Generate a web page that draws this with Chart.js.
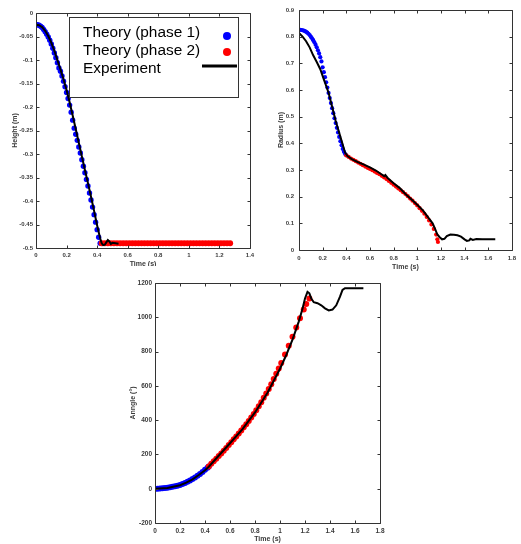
<!DOCTYPE html>
<html><head><meta charset="utf-8">
<script src="https://cdn.jsdelivr.net/npm/chart.js@4"></script>
<style>
html,body{margin:0;padding:0;background:#fff;width:521px;height:544px;overflow:hidden;position:relative}
canvas{position:absolute}
</style></head><body>
<canvas id="c1" width="260" height="266" style="left:0;top:0"></canvas>
<canvas id="c2" width="261" height="272" style="left:260px;top:0"></canvas>
<canvas id="c3" width="280" height="270" style="left:110px;top:274px"></canvas>
<script>
// ---------- Height chart data ----------
const heightT1 = [0,0.01,0.02,0.03,0.04,0.05,0.06,0.07,0.08,0.09,0.10,0.11,0.12,0.13,0.14,0.15,0.16,0.17,0.18,0.19,0.20,0.21,0.22,0.23,0.24,0.25,0.26,0.27,0.28,0.29,0.30,0.31,0.32,0.33,0.34,0.35,0.36,0.37,0.38,0.39,0.40,0.41,0.42];
const heightP1 = [-0.025,-0.025,-0.026,-0.028,-0.031,-0.035,-0.040,-0.045,-0.051,-0.058,-0.066,-0.075,-0.085,-0.095,-0.106,-0.117,-0.124,-0.134,-0.145,-0.157,-0.169,-0.182,-0.196,-0.211,-0.228,-0.245,-0.258,-0.271,-0.285,-0.298,-0.312,-0.326,-0.340,-0.354,-0.368,-0.383,-0.398,-0.413,-0.429,-0.445,-0.461,-0.477,-0.490];
const heightT2 = [0.43,0.45,0.47,0.49,0.51,0.53,0.55,0.57,0.59,0.61,0.63,0.65,0.67,0.69,0.71,0.73,0.75,0.77,0.79,0.81,0.83,0.85,0.87,0.89,0.91,0.93,0.95,0.97,0.99,1.01,1.03,1.05,1.07,1.09,1.11,1.13,1.15,1.17,1.19,1.21,1.23,1.25,1.27];
const heightP2 = [-0.49,-0.49,-0.49,-0.49,-0.49,-0.49,-0.49,-0.49,-0.49,-0.49,-0.49,-0.49,-0.49,-0.49,-0.49,-0.49,-0.49,-0.49,-0.49,-0.49,-0.49,-0.49,-0.49,-0.49,-0.49,-0.49,-0.49,-0.49,-0.49,-0.49,-0.49,-0.49,-0.49,-0.49,-0.49,-0.49,-0.49,-0.49,-0.49,-0.49,-0.49,-0.49,-0.49];
const heightExpT = [0,0.02,0.04,0.06,0.08,0.10,0.12,0.14,0.16,0.18,0.20,0.22,0.24,0.26,0.28,0.30,0.32,0.34,0.36,0.38,0.40,0.42,0.43,0.44,0.45,0.46,0.47,0.48,0.49,0.50,0.52,0.54];
const heightExp = [-0.025,-0.026,-0.030,-0.038,-0.049,-0.063,-0.080,-0.100,-0.120,-0.141,-0.164,-0.190,-0.218,-0.247,-0.276,-0.305,-0.334,-0.362,-0.391,-0.421,-0.452,-0.480,-0.490,-0.494,-0.493,-0.488,-0.483,-0.486,-0.491,-0.489,-0.490,-0.491];
const heightXTicks = [0,0.2,0.4,0.6,0.8,1,1.2,1.4];
const heightXLabels = ['0','0.2','0.4','0.6','0.8','1','1.2','1.4'];
const heightYTicks = [-0.5,-0.45,-0.4,-0.35,-0.3,-0.25,-0.2,-0.15,-0.1,-0.05,0];
const heightYLabels = ['-0.5','-0.45','-0.4','-0.35','-0.3','-0.25','-0.2','-0.15','-0.1','-0.05','0'];

// ---------- Radius chart data ----------
const radiusT1 = [0,0.01,0.02,0.03,0.04,0.05,0.06,0.07,0.08,0.09,0.10,0.11,0.12,0.13,0.14,0.15,0.16,0.17,0.18,0.19,0.20,0.21,0.22,0.23,0.24,0.25,0.26,0.27,0.28,0.29,0.30,0.31,0.32,0.33,0.34,0.35,0.36,0.37,0.38,0.39,0.40];
const radiusP1 = [0.826,0.826,0.825,0.824,0.823,0.821,0.818,0.815,0.811,0.806,0.800,0.794,0.787,0.779,0.770,0.760,0.749,0.737,0.723,0.707,0.685,0.667,0.648,0.629,0.609,0.589,0.570,0.551,0.532,0.513,0.494,0.476,0.458,0.441,0.424,0.408,0.393,0.379,0.368,0.360,0.355];
const radiusT2 = [0.40,0.42,0.44,0.46,0.48,0.50,0.52,0.54,0.56,0.58,0.60,0.62,0.64,0.66,0.68,0.70,0.72,0.74,0.76,0.78,0.80,0.82,0.84,0.86,0.88,0.90,0.92,0.94,0.96,0.98,1.00,1.02,1.04,1.06,1.08,1.10,1.12,1.14,1.16,1.17,1.175];
const radiusP2 = [0.355,0.349,0.343,0.338,0.333,0.328,0.323,0.318,0.313,0.308,0.304,0.299,0.294,0.289,0.284,0.278,0.272,0.266,0.259,0.252,0.245,0.238,0.231,0.224,0.217,0.210,0.202,0.193,0.185,0.176,0.167,0.157,0.147,0.136,0.124,0.111,0.096,0.079,0.058,0.040,0.030];
const radiusExpT = [0,0.03,0.06,0.09,0.12,0.15,0.18,0.21,0.23,0.25,0.27,0.29,0.31,0.33,0.35,0.37,0.39,0.41,0.45,0.50,0.55,0.60,0.65,0.70,0.72,0.73,0.75,0.80,0.85,0.90,0.95,1.00,1.05,1.10,1.13,1.15,1.17,1.19,1.21,1.23,1.25,1.28,1.31,1.34,1.37,1.40,1.42,1.44,1.45,1.47,1.50,1.55,1.60,1.66];
const radiusExp = [0.814,0.800,0.783,0.760,0.730,0.705,0.678,0.640,0.615,0.590,0.555,0.520,0.485,0.455,0.425,0.395,0.365,0.352,0.340,0.329,0.320,0.310,0.298,0.283,0.277,0.281,0.270,0.250,0.233,0.210,0.190,0.170,0.148,0.118,0.100,0.080,0.058,0.048,0.040,0.042,0.052,0.058,0.057,0.055,0.050,0.040,0.034,0.036,0.042,0.038,0.041,0.040,0.040,0.040];
const radiusXTicks = [0,0.2,0.4,0.6,0.8,1,1.2,1.4,1.6,1.8];
const radiusXLabels = ['0','0.2','0.4','0.6','0.8','1','1.2','1.4','1.6','1.8'];
const radiusYTicks = [0,0.1,0.2,0.3,0.4,0.5,0.6,0.7,0.8,0.9];
const radiusYLabels = ['0','0.1','0.2','0.3','0.4','0.5','0.6','0.7','0.8','0.9'];

// ---------- Angle chart data ----------
const angleT1 = [0,0.02,0.04,0.06,0.08,0.10,0.12,0.14,0.16,0.18,0.20,0.22,0.24,0.26,0.28,0.30,0.32,0.34,0.36,0.38,0.40,0.42,0.43];
const angleP1 = [0,0,1,2,4,6,8,11,14,18,22,27,33,40,48,56,65,75,86,98,110,123,130];
const angleT2 = [0.43,0.45,0.47,0.49,0.51,0.53,0.55,0.57,0.59,0.61,0.63,0.65,0.67,0.69,0.71,0.73,0.75,0.77,0.79,0.81,0.83,0.85,0.87,0.89,0.91,0.93,0.95,0.97,0.99,1.01,1.04,1.07,1.10,1.13,1.16,1.19,1.21,1.235];
const angleP2 = [130,145,160,175,191,206,222,238,255,271,288,305,322,340,358,376,395,415,436,458,481,505,530,555,582,610,640,670,701,733,783,834,886,940,994,1045,1078,1110];
const angleExpT = [0,0.1,0.2,0.25,0.3,0.35,0.4,0.43,0.5,0.6,0.7,0.8,0.9,1.0,1.05,1.1,1.15,1.18,1.2,1.22,1.235,1.25,1.27,1.3,1.33,1.36,1.39,1.42,1.45,1.48,1.5,1.52,1.55,1.6,1.667];
const angleExp = [0,4,20,35,55,80,108,128,185,265,348,445,560,700,780,870,975,1050,1110,1148,1140,1110,1088,1082,1070,1052,1040,1045,1070,1120,1160,1170,1170,1170,1170];
const angleXTicks = [0,0.2,0.4,0.6,0.8,1,1.2,1.4,1.6,1.8];
const angleXLabels = ['0','0.2','0.4','0.6','0.8','1','1.2','1.4','1.6','1.8'];
const angleYTicks = [-200,0,200,400,600,800,1000,1200];
const angleYLabels = ['-200','0','200','400','600','800','1000','1200'];

const FONT = 'Liberation Sans, Arial, sans-serif';
const TXT = '#3a3a3a';
const pts = (xs, ys) => xs.map((x, i) => ({x, y: ys[i]}));

const framePlugin = {
  id: 'frame',
  afterDraw(chart) {
    const {ctx, chartArea: {left, right, top, bottom}, scales: {x, y}} = chart;
    ctx.save();
    ctx.strokeStyle = '#333';
    ctx.lineWidth = 1;
    const L = Math.round(left) + 0.5, R = Math.round(right) + 0.5, T = Math.round(top) + 0.5, B = Math.round(bottom) + 0.5;
    ctx.beginPath();
    ctx.rect(L, T, R - L, B - T);
    const tl = 3;
    x.ticks.forEach(t => {
      const p = Math.round(x.getPixelForValue(t.value)) + 0.5;
      ctx.moveTo(p, B); ctx.lineTo(p, B - tl);
      ctx.moveTo(p, T); ctx.lineTo(p, T + tl);
    });
    y.ticks.forEach(t => {
      const p = Math.round(y.getPixelForValue(t.value)) + 0.5;
      ctx.moveTo(L, p); ctx.lineTo(L + tl, p);
      ctx.moveTo(R, p); ctx.lineTo(R - tl, p);
    });
    ctx.stroke();
    ctx.restore();
  }
};

const legendBoxPlugin = {
  id: 'legendBox',
  afterDraw(chart) {
    const ctx = chart.ctx;
    const ds = chart.data.datasets;
    ctx.save();
    ctx.fillStyle = '#fff';
    ctx.fillRect(69, 17, 169, 80);
    ctx.strokeStyle = '#333';
    ctx.lineWidth = 1;
    ctx.strokeRect(69.5, 17.5, 169, 80);
    ctx.font = '15.4px ' + FONT;
    ctx.fillStyle = '#000';
    ctx.textBaseline = 'middle';
    ctx.textAlign = 'left';
    const rows = [ds[1], ds[2], ds[0]];
    const ys = [33, 51, 69];
    rows.forEach((d, i) => {
      ctx.fillText(d.label, 83, ys[i]);
    });
    ctx.fillStyle = ds[1].backgroundColor;
    ctx.beginPath(); ctx.arc(227, 36, 4, 0, Math.PI * 2); ctx.fill();
    ctx.fillStyle = ds[2].backgroundColor;
    ctx.beginPath(); ctx.arc(227, 52, 4, 0, Math.PI * 2); ctx.fill();
    ctx.strokeStyle = ds[0].borderColor;
    ctx.lineWidth = 3;
    ctx.beginPath(); ctx.moveTo(202, 66); ctx.lineTo(237, 66); ctx.stroke();
    ctx.restore();
  }
};

function makeChart(id, cfg) {
  const tickFont = {family: FONT, size: cfg.tickSize, weight: 'bold'};
  const titleFont = {family: FONT, size: 7, weight: 'bold'};
  return new Chart(document.getElementById(id), {
    type: 'scatter',
    data: {
      datasets: [
        {label: 'Experiment', data: cfg.exp, showLine: true, borderColor: '#000', backgroundColor: '#000', borderWidth: 2, pointRadius: 0, tension: 0, order: 0},
        {label: 'Theory (phase 1)', data: cfg.p1, backgroundColor: '#0000ff', borderWidth: 0, pointRadius: cfg.r1, order: 2},
        {label: 'Theory (phase 2)', data: cfg.p2, backgroundColor: '#ff0000', borderWidth: 0, pointRadius: cfg.r2, order: 1}
      ]
    },
    options: {
      responsive: false, animation: false, maintainAspectRatio: false,
      layout: {padding: {left: 0, top: cfg.padTop, right: cfg.padRight, bottom: 0}},
      plugins: {legend: {display: false}, tooltip: {enabled: false}},
      scales: {
        x: {
          type: 'linear', min: cfg.xTicks[0], max: cfg.xTicks[cfg.xTicks.length - 1],
          afterBuildTicks: s => { s.ticks = cfg.xTicks.map(v => ({value: v})); },
          afterFit: s => { s.height = cfg.xH; },
          grid: {display: false, drawTicks: false}, border: {display: false},
          ticks: {font: tickFont, color: TXT, padding: cfg.xPad, maxRotation: 0, autoSkip: false, callback: (v, i) => cfg.xLabels[i]},
          title: {display: true, text: 'Time (s)', font: titleFont, color: TXT, padding: {top: 0, bottom: cfg.xTitlePad}}
        },
        y: {
          type: 'linear', min: cfg.yTicks[0], max: cfg.yTicks[cfg.yTicks.length - 1],
          afterBuildTicks: s => { s.ticks = cfg.yTicks.map(v => ({value: v})); },
          afterFit: s => { s.width = cfg.yW; },
          grid: {display: false, drawTicks: false}, border: {display: false},
          ticks: {font: tickFont, color: TXT, padding: cfg.yPad, autoSkip: false, callback: (v, i) => cfg.yLabels[i]},
          title: {display: true, text: cfg.yTitle, font: titleFont, color: TXT, padding: {top: cfg.yTitlePad, bottom: 0}}
        }
      }
    },
    plugins: cfg.legend ? [framePlugin, legendBoxPlugin] : [framePlugin]
  });
}

makeChart('c1', {
  exp: pts(heightExpT, heightExp), p1: pts(heightT1, heightP1), p2: pts(heightT2, heightP2),
  r1: 2.7, r2: 3, tickSize: 6,
  xTicks: heightXTicks, xLabels: heightXLabels, yTicks: heightYTicks, yLabels: heightYLabels,
  padTop: 13, padRight: 10, xH: 18, yW: 36, xPad: 4, yPad: 3, xTitlePad: -2, yTitlePad: 11,
  yTitle: 'Height (m)', legend: true
});
makeChart('c2', {
  exp: pts(radiusExpT, radiusExp), p1: pts(radiusT1, radiusP1), p2: pts(radiusT2, radiusP2),
  r1: 2.1, r2: 2.1, tickSize: 6,
  xTicks: radiusXTicks, xLabels: radiusXLabels, yTicks: radiusYTicks, yLabels: radiusYLabels,
  padTop: 10, padRight: 4, xH: 22, yW: 39, xPad: 5, yPad: 5, xTitlePad: 1, yTitlePad: 16.8,
  yTitle: 'Radius (m)', legend: false
});
makeChart('c3', {
  exp: pts(angleExpT, angleExp), p1: pts(angleT1, angleP1), p2: pts(angleT2, angleP2),
  r1: 3, r2: 3, tickSize: 6.5,
  xTicks: angleXTicks, xLabels: angleXLabels, yTicks: angleYTicks, yLabels: angleYLabels,
  padTop: 9, padRight: 10, xH: 21, yW: 45, xPad: 4, yPad: 3, xTitlePad: 0.5, yTitlePad: 18.5,
  yTitle: 'Anngle (°)', legend: false
});
</script>
</body></html>
